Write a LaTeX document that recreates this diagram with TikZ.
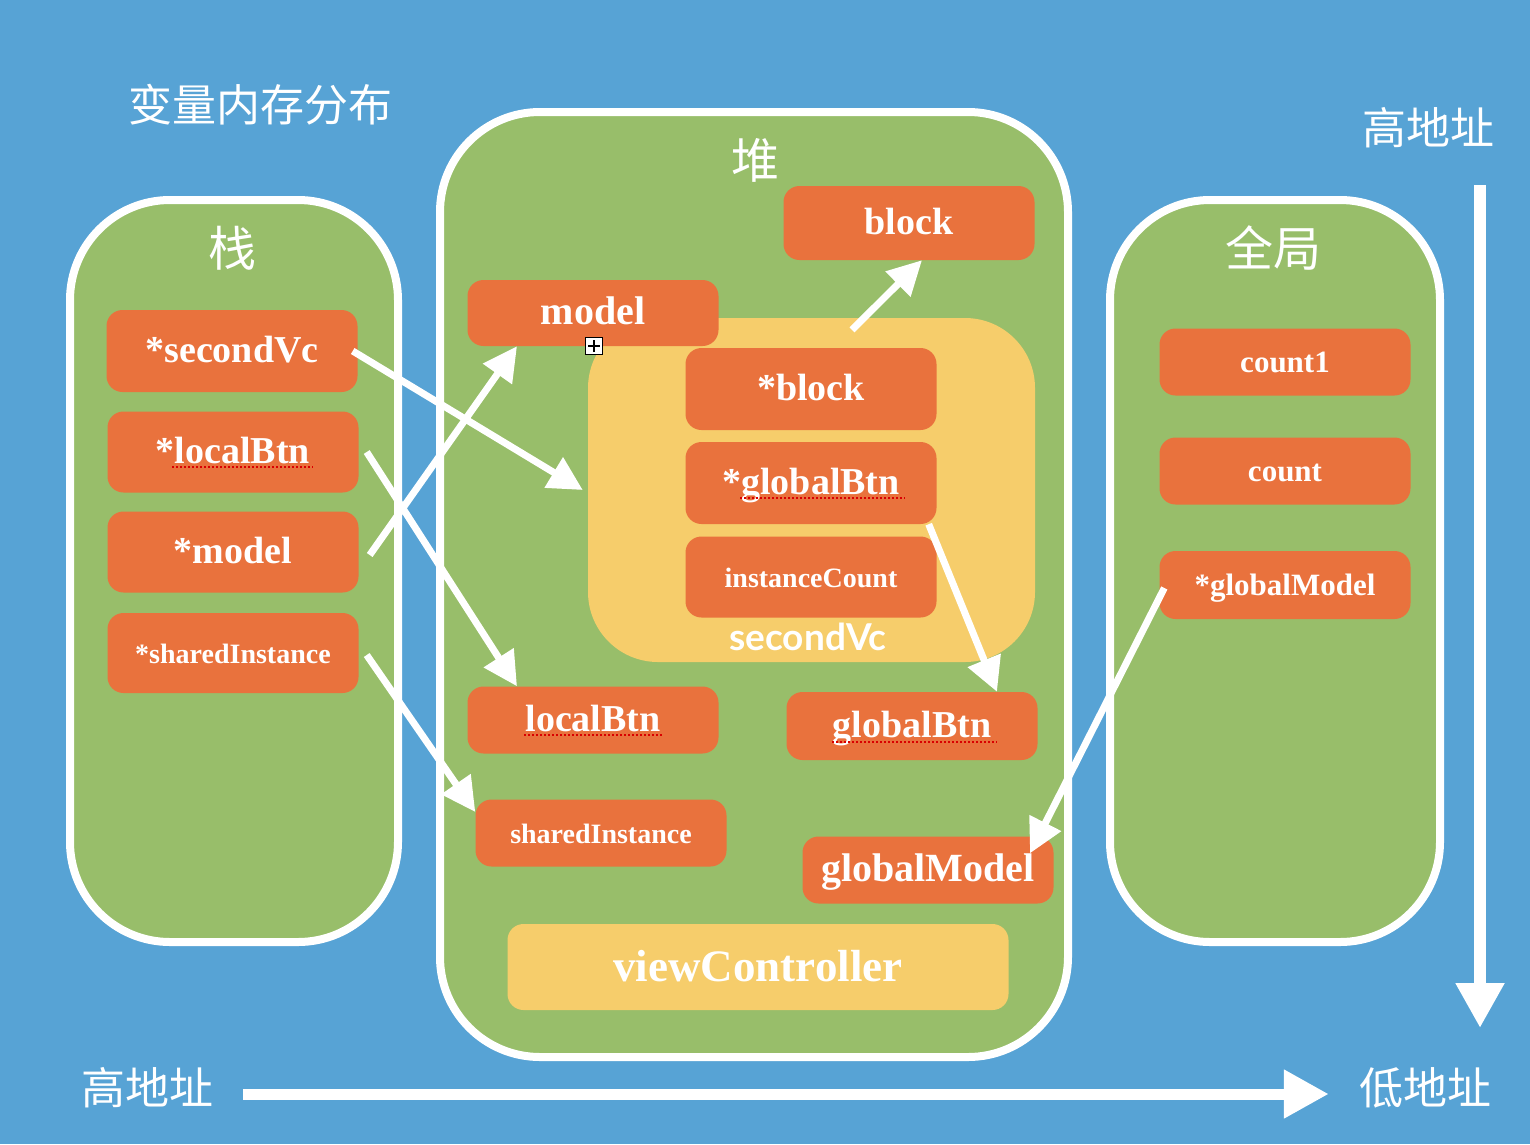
\documentclass[tikz,border=0pt]{standalone}
\usepackage{fontspec}
\setmainfont{Liberation Serif}
\newfontfamily\cjk{Noto Sans CJK SC}
\newfontfamily\sfb{Lato}
\usetikzlibrary{arrows.meta}
\definecolor{bgblue}{HTML}{57A3D5}
\definecolor{grn}{HTML}{98BE6A}
\definecolor{orng}{HTML}{E9723D}
\definecolor{ylw}{HTML}{F6CD6B}
\begin{document}
\begin{tikzpicture}[x=1pt,y=-1pt,
  container/.style={draw=white, line width=8pt, fill=grn, rounded corners=100pt},
  box/.style={fill=orng, rounded corners=16pt, minimum width=251pt, inner sep=0pt, text=white,
     font=\bfseries\fontsize{38}{40}\selectfont, text height=29pt, text depth=7pt},
  bigtxt/.style={font=\bfseries\fontsize{40}{42}\selectfont, text height=30.5pt, text depth=7.5pt},
  midtxt/.style={font=\bfseries\fontsize{31}{34}\selectfont, text height=26pt, text depth=5pt},
  smalltxt/.style={font=\bfseries\fontsize{28}{30}\selectfont, text height=25pt, text depth=5pt},
  cjklabel/.style={text=white, font=\cjk\fontsize{44}{48}\selectfont, inner sep=0pt},
  warr/.style={draw=white, line width=7pt, -{Triangle[length=34pt,width=34pt]}},
  addr/.style={draw=white, line width=11pt, -{Triangle[length=45pt,width=46pt]}},
  spell/.style={draw=red!85!black, line width=1.6pt, dash pattern=on 2pt off 2pt}
]
\useasboundingbox (0,0) rectangle (1530,1144);
\fill[bgblue] (0,0) rectangle (1530,1144);

% containers
\draw[container] (70,200) rectangle (398,942);
\draw[container] (440,112) rectangle (1068,1057);
\draw[container] (1110,200) rectangle (1440,942);

% titles
\node[cjklabel] (title) at (260,105) {变量内存分布};
\node[cjklabel, font=\cjk\fontsize{48}{50}\selectfont] (heapT) at (755,160) {堆};
\node[cjklabel, font=\cjk\fontsize{48}{50}\selectfont] (stackT) at (232,248) {栈};
\node[cjklabel, font=\cjk\fontsize{48}{50}\selectfont] (globT) at (1273,248) {全局};
\node[cjklabel] (hiTop) at (1428,128) {高地址};
\node[cjklabel] (hiBot) at (147,1088) {高地址};
\node[cjklabel] (loBot) at (1425,1088) {低地址};

% secondVc region
\node[fill=ylw, rounded corners=70pt, minimum width=447pt, minimum height=344pt, inner sep=0pt] (sv) at (811.5,490) {};
\node[text=white, font=\sfb\bfseries\fontsize{37}{40}\selectfont, inner sep=0pt] (svT) at (808,637) {secondVc};

% stack boxes
\node[box, minimum height=82pt] (ssv) at (232,351) {*secondVc};
\node[box, minimum height=81pt] (slb) at (233,452) {*localBtn};
\node[box, minimum height=81pt] (smd) at (233,552) {*model};
\node[box, smalltxt, minimum height=80pt] (ssi) at (233,653) {*sharedInstance};

% heap boxes
\node[box, minimum height=74pt] (hbk) at (909,223) {block};
\node[box, bigtxt, minimum height=66pt] (hmd) at (593,313) {model};
\node[box, minimum height=82pt] (sbk) at (811,389) {*block};
\node[box, minimum height=82pt] (sgb) at (811,483) {*globalBtn};
\node[box, smalltxt, minimum height=81pt] (sic) at (811,577) {instanceCount};
\node[box, minimum height=67pt] (hlb) at (593,720) {localBtn};
\node[box, minimum height=68pt] (hgb) at (912,726) {globalBtn};
\node[box, smalltxt, minimum height=67pt] (hsi) at (601,833) {sharedInstance};
\node[box, bigtxt, minimum height=67pt] (hgm) at (928,870) {globalModel};
\node[box, fill=ylw, minimum width=501pt, minimum height=86pt, font=\bfseries\fontsize{45}{48}\selectfont, text height=36pt, text depth=8pt] (vc) at (758,967) {viewController};

% global boxes
\node[box, midtxt, minimum height=67pt] (gc1) at (1285,362) {count1};
\node[box, midtxt, minimum height=67pt] (gc) at (1285,471) {count};
\node[box, midtxt, minimum height=68pt] (ggm) at (1285,585) {*globalModel};

% spell-check underlines
\draw[spell] ([xshift=-61pt,yshift=-15pt]slb.center) -- ++(141,0);
\draw[spell] ([xshift=-69pt,yshift=-15pt]hlb.center) -- ++(139,0);
\draw[spell] ([xshift=-80pt,yshift=-16pt]hgb.center) -- ++(165,0);
\draw[spell] ([xshift=-71pt,yshift=-15pt]sgb.center) -- ++(165,0);

% small icon
\node[draw=black, fill=white, line width=1.5pt, minimum size=17pt, inner sep=0pt] (icon) at ([xshift=1pt]hmd.south) {};
\draw[black, line width=1.5pt] ([xshift=-6pt]icon.center) -- ([xshift=6pt]icon.center);
\draw[black, line width=1.5pt] ([yshift=-6pt]icon.center) -- ([yshift=6pt]icon.center);

% pointer arrows
\draw[warr] ([xshift=-5pt]ssv.east) -- ([xshift=-5pt]sv.west);
\draw[warr] ([xshift=8pt]slb.east) -- ([xshift=-76pt]hlb.north);
\draw[warr] ([xshift=11pt,yshift=-3pt]smd.east) -- ([xshift=-76pt]hmd.south);
\draw[warr] ([xshift=8pt,yshift=-2pt]ssi.east) -- ([yshift=21pt]hsi.west);
\draw[warr] ([xshift=41pt,yshift=18pt]sbk.north) -- ([xshift=13pt]hbk.south);
\draw[warr] ([xshift=-8pt]sgb.south east) -- ([xshift=85pt]hgb.north);
\draw[warr] ([xshift=5pt,yshift=-3pt]ggm.west) -- ([xshift=102pt,yshift=-17pt]hgm.north);

% address arrows
\coordinate (vTop) at (1480,185);
\coordinate (vBot) at (1480,1028);
\draw[addr, line width=12pt] (vTop) -- (vBot);
\draw[addr] ([xshift=30pt,yshift=-6pt]hiBot.east) -- ([xshift=-30pt,yshift=-6pt]loBot.west);
\end{tikzpicture}
\end{document}
